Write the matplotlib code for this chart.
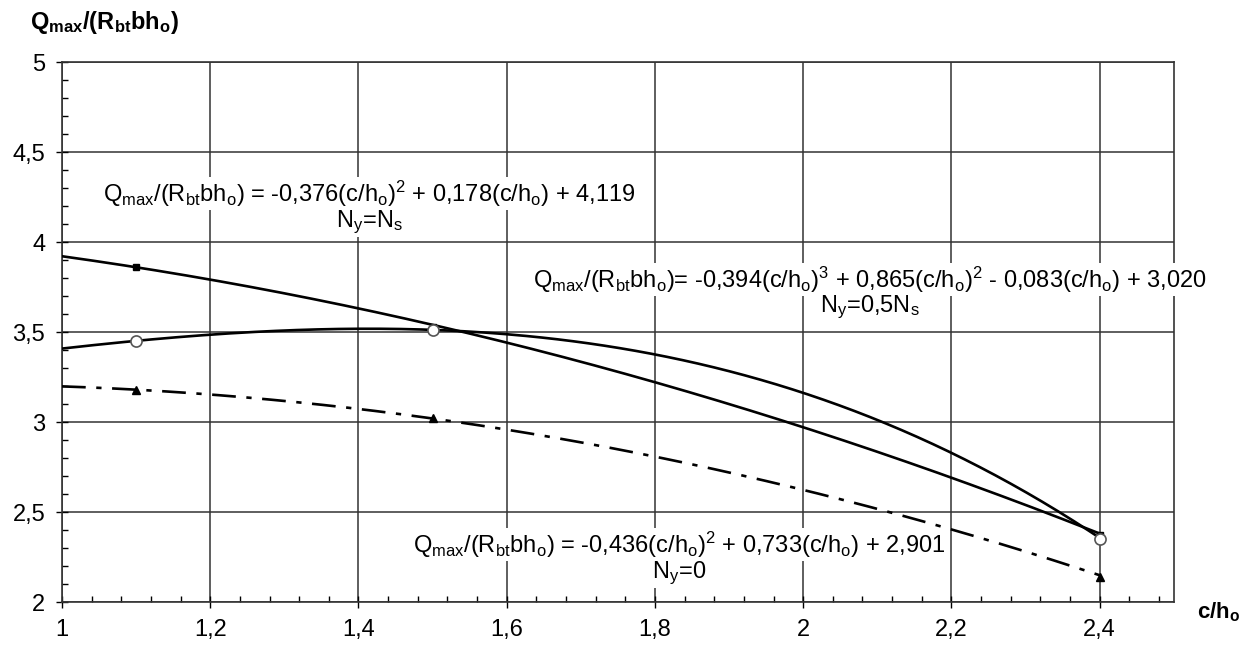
import numpy as np
import matplotlib
matplotlib.use('Agg')
import matplotlib.pyplot as plt
from matplotlib.ticker import MultipleLocator, FuncFormatter

plt.rcParams['font.family'] = ['Liberation Sans', 'DejaVu Sans']
plt.rcParams['mathtext.default'] = 'regular'

# measured points
x_pts = [1.1, 1.5, 2.4]
y_ns = [3.86, 3.53, 2.37]      # Ny = Ns, squares
y_half = [3.45, 3.51, 2.35]    # Ny = 0.5Ns, circles
y_zero = [3.18, 3.02, 2.14]    # Ny = 0, triangles

# trendline coefficients (as printed on the chart)
coef_ns = [-0.376, 0.178, 4.119]
coef_half = [-0.394, 0.865, -0.083, 3.020]
coef_zero = [-0.436, 0.733, 2.901]
x_range = [1.0, 2.4]

fig = plt.figure(figsize=(12.52, 6.5), dpi=100)
ax = fig.add_axes([0.0495, 0.0738, 0.888, 0.8308])

xx = np.linspace(x_range[0], x_range[1], 200)
ax.plot(xx, np.polyval(coef_ns, xx), color='black', lw=1.9, zorder=3)
ax.plot(xx, np.polyval(coef_half, xx), color='black', lw=1.9, zorder=3)
ax.plot(xx, np.polyval(coef_zero, xx), color='black', lw=1.9,
        linestyle=(0, (9, 4, 2, 4)), zorder=3)

ax.plot(x_pts, y_ns, 's', color='black', ms=5, zorder=4)
ax.plot(x_pts, y_half, 'o', mfc='white', mec='#555555', mew=1.2, ms=8, zorder=4)
ax.plot(x_pts, y_zero, '^', color='black', ms=6, zorder=4)

ax.set_xlim(1, 2.5)
ax.set_ylim(2, 5)
ax.xaxis.set_major_locator(MultipleLocator(0.2))
ax.xaxis.set_minor_locator(MultipleLocator(0.04))
ax.yaxis.set_major_locator(MultipleLocator(0.5))
ax.yaxis.set_minor_locator(MultipleLocator(0.1))

def comma(v, pos):
    s = ('%.2f' % v).rstrip('0').rstrip('.')
    return s.replace('.', ',')

ax.xaxis.set_major_formatter(FuncFormatter(comma))
ax.yaxis.set_major_formatter(FuncFormatter(comma))
ax.tick_params(which='major', direction='inout', length=8, width=1, labelsize=17, pad=8)
ax.tick_params(which='minor', direction='in', length=4, width=1)
ax.grid(True, which='major', color='#333333', lw=1.1)
for sp in ax.spines.values():
    sp.set_color('#333333')
    sp.set_linewidth(1.2)

fig.text(0.024, 0.965, r'Q$_{max}$/(R$_{bt}$bh$_{o}$)', fontsize=17, fontweight='bold',
         ha='left', va='center')
fig.text(0.956, 0.058, r'c/h$_{o}$', fontsize=16, fontweight='bold', ha='left', va='center')

fs = 17
box = dict(facecolor='white', edgecolor='none', pad=1)
ax.text(1.415, 4.27, r'Q$_{max}$/(R$_{bt}$bh$_{o}$) = -0,376(c/h$_{o}$)$^{2}$ + 0,178(c/h$_{o}$) + 4,119',
        fontsize=fs, ha='center', va='center', bbox=box, zorder=5)
ax.text(1.415, 4.11, r'N$_{y}$=N$_{s}$', fontsize=fs, ha='center', va='center', bbox=box, zorder=5)
ax.text(2.09, 3.79, r'Q$_{max}$/(R$_{bt}$bh$_{o}$)= -0,394(c/h$_{o}$)$^{3}$ + 0,865(c/h$_{o}$)$^{2}$ - 0,083(c/h$_{o}$) + 3,020',
        fontsize=fs, ha='center', va='center', bbox=box, zorder=5)
ax.text(2.09, 3.635, r'N$_{y}$=0,5N$_{s}$', fontsize=fs, ha='center', va='center', bbox=box, zorder=5)
ax.text(1.833, 2.32, r'Q$_{max}$/(R$_{bt}$bh$_{o}$) = -0,436(c/h$_{o}$)$^{2}$ + 0,733(c/h$_{o}$) + 2,901',
        fontsize=fs, ha='center', va='center', bbox=box, zorder=5)
ax.text(1.833, 2.16, r'N$_{y}$=0', fontsize=fs, ha='center', va='center', bbox=box, zorder=5)

plt.savefig('out.png', dpi=100)
